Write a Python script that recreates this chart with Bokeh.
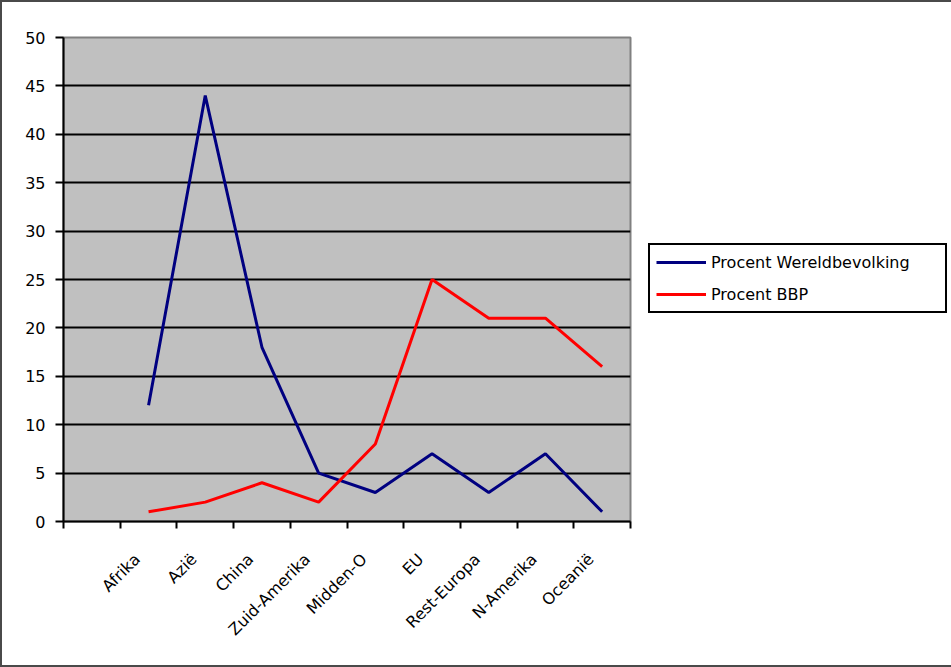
import math
import numpy as np
from bokeh.plotting import figure
from bokeh.models import FixedTicker, Legend, LegendItem
from bokeh.embed import file_html
from bokeh.resources import INLINE

# ---- data ----
categories = ["", "Afrika", "Azië", "China", "Zuid-Amerika", "Midden-O", "EU",
              "Rest-Europa", "N-Amerika", "Oceanië"]
wereldbevolking = [np.nan, 12, 44, 18, 5, 3, 7, 3, 7, 1]
bbp = [np.nan, 1, 2, 4, 2, 8, 25, 21, 21, 16]
y_ticks = [0, 5, 10, 15, 20, 25, 30, 35, 40, 45, 50]
series_names = ["Procent Wereldbevolking", "Procent BBP"]

FONT = "DejaVu Sans"

n = len(categories)
centers = [i + 0.5 for i in range(n)]
bounds = list(range(n + 1))
label_pos = [c - 0.2 for c in centers]

p = figure(frame_width=567, frame_height=484, output_backend="svg", toolbar_location=None,
           x_range=(0, n), y_range=(0, 50),
           min_border_left=61, min_border_right=319, min_border_top=35,
           min_border_bottom=144, title=None)
p.styles = {"border": "2px solid #4a4a4a"}
p.background_fill_color = "#c0c0c0"
p.border_fill_color = "white"
p.outline_line_color = "#808080"
p.outline_line_width = 2

# y axis
p.yaxis.ticker = FixedTicker(ticks=y_ticks)
p.yaxis.axis_line_color = "black"
p.yaxis.axis_line_width = 2
p.yaxis.major_tick_line_color = "black"
p.yaxis.major_tick_line_width = 2
p.yaxis.major_tick_out = 8
p.yaxis.major_tick_in = 0
p.yaxis.minor_tick_line_color = None
p.yaxis.major_label_text_font = FONT
p.yaxis.major_label_text_font_size = "16px"
p.yaxis.major_label_text_color = "black"
p.yaxis.major_label_standoff = 10

# x axis
p.xaxis.ticker = FixedTicker(ticks=label_pos, minor_ticks=bounds)
p.xaxis.major_label_overrides = {c: lab for c, lab in zip(label_pos, categories)}
p.xaxis.major_tick_line_color = None
p.xaxis.major_tick_out = 0
p.xaxis.major_tick_in = 0
p.xaxis.minor_tick_line_color = "black"
p.xaxis.minor_tick_line_width = 2
p.xaxis.minor_tick_out = 7
p.xaxis.minor_tick_in = 0
p.xaxis.axis_line_color = "black"
p.xaxis.axis_line_width = 2
p.xaxis.major_label_orientation = math.pi / 4
p.xaxis.major_label_text_font = FONT
p.xaxis.major_label_text_font_size = "16px"
p.xaxis.major_label_text_color = "black"
p.xaxis.major_label_standoff = 28

# grid
p.xgrid.grid_line_color = None
p.ygrid.ticker = FixedTicker(ticks=y_ticks)
p.ygrid.grid_line_color = "black"
p.ygrid.grid_line_width = 2

r1 = p.line(centers, wereldbevolking, line_color="#000080", line_width=3)
r2 = p.line(centers, bbp, line_color="#ff0000", line_width=3)

legend = Legend(items=[LegendItem(label=series_names[0], renderers=[r1]),
                       LegendItem(label=series_names[1], renderers=[r2])],
                location=(18, 208), orientation="vertical")
legend.border_line_color = "black"
legend.border_line_alpha = 1.0
legend.border_line_width = 2
legend.background_fill_color = "white"
legend.background_fill_alpha = 1
legend.label_text_font = FONT
legend.label_text_font_size = "16px"
legend.label_text_color = "black"
legend.glyph_width = 50
legend.glyph_height = 22
legend.label_standoff = 5
legend.label_width = 228
legend.padding = 6
legend.spacing = 10
legend.margin = 0
p.add_layout(legend, "right")

open("out.html", "w").write(file_html(p, INLINE))
